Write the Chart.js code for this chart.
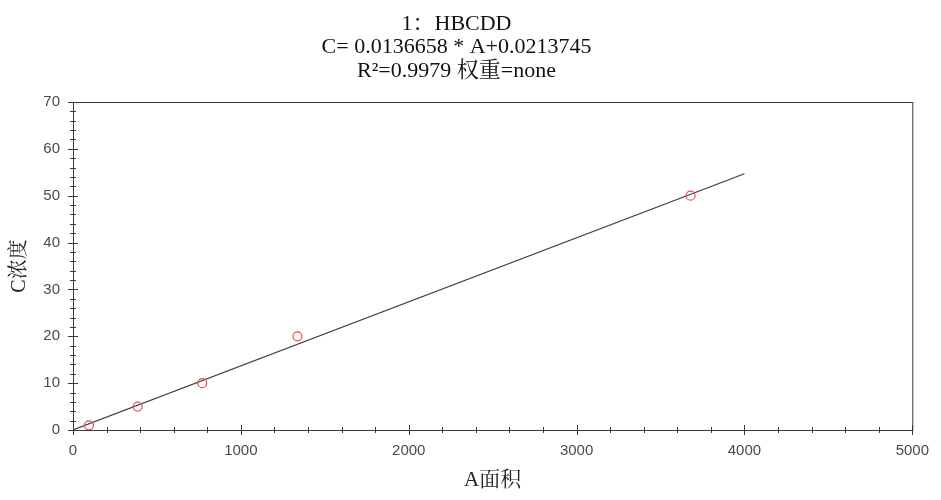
<!DOCTYPE html>
<html>
<head>
<meta charset="utf-8">
<script src="https://cdn.jsdelivr.net/npm/chart.js@4/dist/chart.umd.min.js"></script>
<style>
  html, body { margin: 0; padding: 0; background: #ffffff; }
  #wrap { width: 941px; height: 500px; position: relative; }
</style>
</head>
<body>
<div id="wrap"><canvas id="c" width="941" height="500"></canvas></div>
<script>
// ---- data ----
const titleLines = ['1：HBCDD', 'C= 0.0136658 * A+0.0213745', 'R²=0.9979 权重=none'];
const xAxisTitle = 'A面积';
const yAxisTitle = 'C浓度';
const areaValues = [95, 385, 770, 1337, 3679];      // A (peak area)
const concValues = [1, 5, 10, 20, 50];               // C (concentration)
const fitArea = [0, 4000];                           // fitted line ends (A)
const fitConc = [0.0214, 54.685];                    // fitted line ends (C)
const xTickValues = [0, 1000, 2000, 3000, 4000, 5000];
const yTickValues = [0, 10, 20, 30, 40, 50, 60, 70];
const xMinorStep = 200;
const yMinorStep = 2;

const serif = "'Liberation Serif', 'Times New Roman', 'Noto Serif CJK SC', 'Noto Sans CJK SC', serif";
const sans = "'Liberation Sans', Arial, sans-serif";
const axisColor = '#3a3a3a';

const frameTicks = {
  id: 'frameTicks',
  beforeDatasetsDraw(chart) {
    const { ctx, chartArea: a, scales: { x, y } } = chart;
    ctx.save();
    ctx.strokeStyle = axisColor;
    ctx.lineWidth = 1;
    ctx.strokeRect(a.left + 0.5, a.top + 0.5, a.right - a.left, a.bottom - a.top);
    for (let v = x.min; v <= x.max + 1e-9; v += xMinorStep) {
      const px = Math.round(x.getPixelForValue(v)) + 0.5;
      const major = xTickValues.includes(Math.round(v));
      const len = major ? 5 : 3;
      ctx.beginPath();
      ctx.moveTo(px, a.bottom - len);
      ctx.lineTo(px, a.bottom + len);
      ctx.stroke();
    }
    for (let v = y.min; v <= y.max + 1e-9; v += yMinorStep) {
      const py = Math.round(y.getPixelForValue(v)) + 0.5;
      const major = yTickValues.includes(Math.round(v));
      const len = major ? 5 : 3;
      ctx.beginPath();
      ctx.moveTo(a.left - len, py);
      ctx.lineTo(a.left + len, py);
      ctx.stroke();
    }
    ctx.restore();
  }
};

new Chart(document.getElementById('c'), {
  type: 'scatter',
  data: {
    datasets: [
      {
        type: 'line',
        data: fitArea.map((a, i) => ({ x: a, y: fitConc[i] })),
        borderColor: '#3c3c3c',
        borderWidth: 1.2,
        pointRadius: 0,
        fill: false,
        order: 2
      },
      {
        data: areaValues.map((a, i) => ({ x: a, y: concValues[i] })),
        borderColor: '#e0514f',
        backgroundColor: 'rgba(0,0,0,0)',
        borderWidth: 1.2,
        pointRadius: 4.5,
        pointStyle: 'circle',
        order: 1
      }
    ]
  },
  options: {
    responsive: false,
    animation: false,
    layout: { padding: { left: 0, right: 28, top: 0, bottom: 0 } },
    plugins: {
      legend: { display: false },
      tooltip: { enabled: false },
      title: {
        display: true,
        text: titleLines,
        color: '#111',
        font: { family: serif, size: 22, weight: 'normal', lineHeight: '23.5px' },
        padding: { top: 12, bottom: 19.5 }
      }
    },
    scales: {
      x: {
        type: 'linear',
        min: 0, max: 5000,
        afterFit(s) { s.height = 70; },
        afterBuildTicks(s) { s.ticks = xTickValues.map(v => ({ value: v })); },
        grid: { display: false, drawTicks: false },
        border: { display: false },
        ticks: { color: '#4a4a4a', font: { family: sans, size: 15 }, padding: 12, maxRotation: 0, autoSkip: false,
                 callback: v => String(v) },
        title: { display: true, text: xAxisTitle, color: '#222', font: { family: serif, size: 21 }, padding: { top: 0, bottom: 7 } }
      },
      y: {
        type: 'linear',
        min: 0, max: 70,
        afterFit(s) { s.width = 73; },
        afterBuildTicks(s) { s.ticks = yTickValues.map(v => ({ value: v })); },
        grid: { display: false, drawTicks: false },
        border: { display: false },
        ticks: { color: '#4a4a4a', font: { family: sans, size: 15 }, padding: 13, autoSkip: false,
                 callback: v => String(v) },
        title: { display: true, text: yAxisTitle, color: '#222', font: { family: serif, size: 20 }, padding: { top: 8, bottom: 0 } }
      }
    }
  },
  plugins: [frameTicks]
});
</script>
</body>
</html>
